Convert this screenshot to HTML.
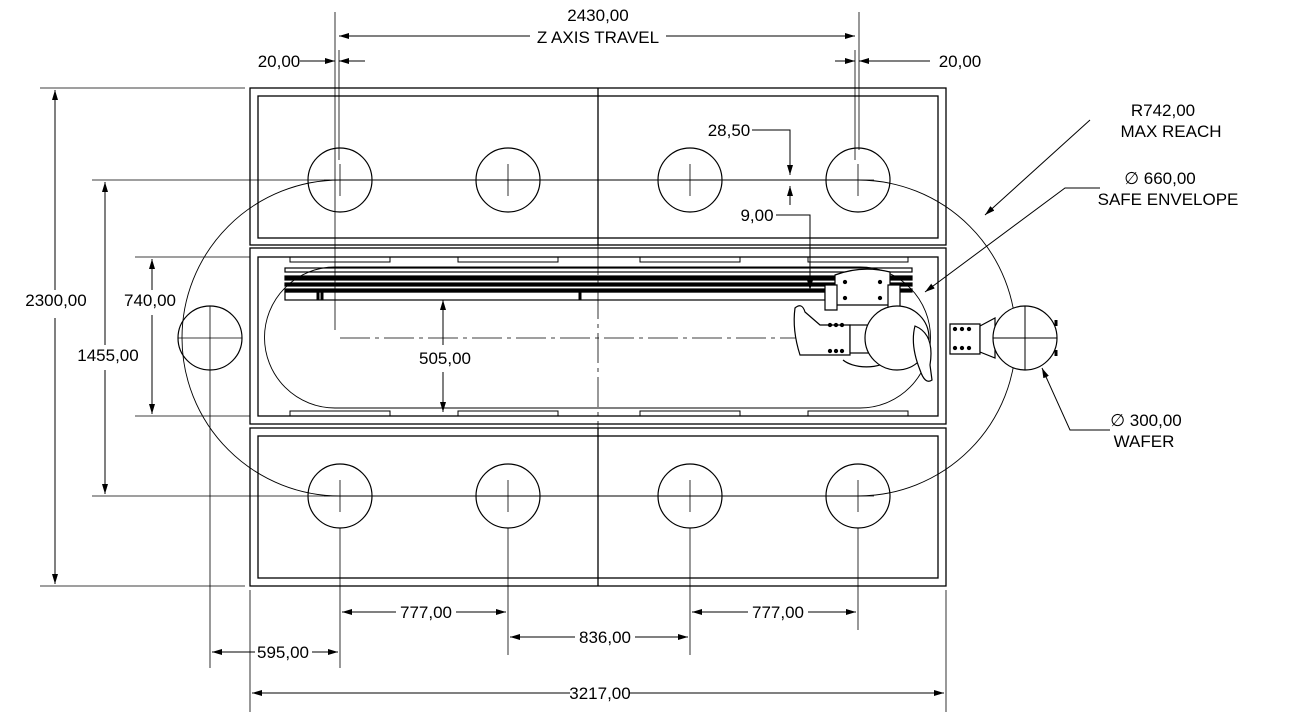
<!DOCTYPE html>
<html><head><meta charset="utf-8"><style>html,body{margin:0;padding:0;background:#fff}svg{display:block}text{font-family:"Liberation Sans",sans-serif;font-size:17px;fill:#000}</style></head><body>
<svg width="1299" height="718" viewBox="0 0 1299 718" xmlns="http://www.w3.org/2000/svg">
<defs><marker id="a" viewBox="0 0 10 6" refX="10" refY="3" markerWidth="10" markerHeight="6" orient="auto-start-reverse" markerUnits="userSpaceOnUse"><path d="M0,0L10,3L0,6z" fill="#000"/></marker></defs>
<g fill="none" stroke="#000" stroke-width="1.3">
<rect x="250" y="88" width="696" height="157"/><rect x="258" y="96" width="680" height="142"/>
<rect x="250" y="248" width="696" height="176"/><rect x="258" y="257" width="680" height="159"/>
<rect x="250" y="428" width="696" height="158"/><rect x="258" y="436" width="680" height="142"/>
<line x1="598" y1="88" x2="598" y2="245"/><line x1="598" y1="428" x2="598" y2="586"/>
<g stroke-width="1"><rect x="290" y="257" width="100" height="5"/><rect x="458" y="257" width="100" height="5"/><rect x="640" y="257" width="100" height="5"/><rect x="808" y="257" width="100" height="5"/>
<rect x="290" y="411" width="100" height="5"/><rect x="458" y="411" width="100" height="5"/><rect x="640" y="411" width="100" height="5"/><rect x="808" y="411" width="100" height="5"/></g>
<g stroke-width="1.2"><circle cx="340" cy="180" r="32"/><circle cx="508" cy="180" r="32"/><circle cx="690" cy="180" r="32"/><circle cx="858" cy="180" r="32"/>
<circle cx="340" cy="496" r="32"/><circle cx="508" cy="496" r="32"/><circle cx="690" cy="496" r="32"/><circle cx="858" cy="496" r="32"/>
<circle cx="210" cy="338" r="32"/></g>
<g stroke-width="0.8"><path d="M324,180h32M340,164v32M492,180h32M508,164v32M674,180h32M690,164v32M842,180h32M858,164v32M324,496h32M340,480v32M492,496h32M508,480v32M674,496h32M690,480v32M842,496h32M858,480v32M178,338h64M210,306v64"/>
<path d="M340,180H858A158,158 0 0 1 858,496H340A158,158 0 0 1 340,180z" stroke-width="0.9"/>
<path d="M335,267H860A70.5,70.5 0 0 1 860,408H335A70.5,70.5 0 0 1 335,267z" stroke-width="0.9"/>
<path d="M340,338H860" stroke-dasharray="30,5,4,5"/>
<path d="M598,245V428" stroke-dasharray="30,5,4,5"/>
<path d="M335,12V330M339,50V160M859,12V150M855,50V160M210,370V668M340,528V668M508,528V655M690,528V655M858,528V630M250,590V712M946,590V712"/>
<path d="M40,88H245M92,180H330M92,496H330M135,257H250M135,416H250M40,586H245"/>
</g>
<g stroke-width="1.2"><rect x="285" y="268" width="627" height="4"/><rect x="285" y="276" width="627" height="4" fill="#000"/><rect x="285" y="283" width="627" height="3" fill="#000"/><rect x="285" y="289" width="627" height="3" fill="#000"/><rect x="285" y="292" width="540" height="8"/></g>
<path d="M318,292v8M322,292v8M580,292v8" stroke-width="3"/>
<!-- robot -->
<g stroke-width="1.2" fill="#fff">
<path d="M835,275Q862,265 890,272L890,305L835,305z"/>
<path d="M825,285h12v25h-12zM888,285h12v25h-12z"/>
<path d="M843,360A28,15 0 0 0 890,360"/>
<path d="M795,308Q802,302 805,312L820,325H850V355H800Q792,330 795,308z"/>
<rect x="850" y="325" width="25" height="28"/>
<path d="M950,324h30v30h-30z"/><path d="M980,326L995,318L995,358L980,352z"/>
<circle cx="897" cy="338" r="32"/>
<path d="M915,326Q935,334 930,365L932,380Q925,385 920,370Q910,345 915,326z"/>
<circle cx="1025" cy="338" r="32"/>
</g>
<path d="M993,338h64M1025,306v64" stroke-width="1"/>
<path d="M1056,320v6M1056,350v6" stroke-width="3"/>
<g fill="#000"><circle cx="830" cy="325" r="1.5"/><circle cx="836" cy="325" r="1.5"/><circle cx="842" cy="325" r="1.5"/><circle cx="830" cy="351" r="1.5"/><circle cx="836" cy="351" r="1.5"/><circle cx="842" cy="351" r="1.5"/><circle cx="955" cy="329" r="1.5"/><circle cx="962" cy="329" r="1.5"/><circle cx="969" cy="329" r="1.5"/><circle cx="955" cy="348" r="1.5"/><circle cx="962" cy="348" r="1.5"/><circle cx="969" cy="348" r="1.5"/><circle cx="845" cy="282" r="1.5"/><circle cx="880" cy="282" r="1.5"/><circle cx="845" cy="298" r="1.5"/><circle cx="880" cy="298" r="1.5"/></g>
<!-- dimension lines -->
<g stroke-width="1" marker-end="url(#a)">
<path d="M530,36H339"/><path d="M666,36H855"/>
<path d="M300,61H335"/><path d="M365,61H339"/><path d="M835,61H855"/><path d="M930,61H859"/>
<path d="M55,290V90"/><path d="M55,318V584"/>
<path d="M105,345V182"/><path d="M105,370V494"/>
<path d="M152,290V259"/><path d="M152,315V414"/>
<path d="M443,345V300"/><path d="M443,372V412"/>
<path d="M396,612H342"/><path d="M456,612H506"/>
<path d="M575,637H510"/><path d="M635,637H688"/>
<path d="M748,612H692"/><path d="M808,612H856"/>
<path d="M255,652H212"/><path d="M312,652H338"/>
<path d="M570,693H252"/><path d="M630,693H944"/>
<path d="M752,130H790V175"/><path d="M790,205V186"/>
<path d="M776,215H810V290"/>
<path d="M1090,120L985,215"/>
<path d="M1100,188H1065L925,292"/>
<path d="M1110,430H1070L1042,368"/>
</g>
<path d="M770,180h40" stroke-width="0.8"/>
</g>
<g text-anchor="middle">
<text x="598" y="21">2430,00</text><text x="598" y="43">Z AXIS TRAVEL</text>
<text x="279" y="67">20,00</text><text x="960" y="67">20,00</text>
<text x="56" y="306" style="paint-order:stroke" stroke="#fff" stroke-width="6">2300,00</text>
<text x="108" y="361" style="paint-order:stroke" stroke="#fff" stroke-width="6">1455,00</text>
<text x="150" y="306" style="paint-order:stroke" stroke="#fff" stroke-width="6">740,00</text>
<text x="445" y="364">505,00</text>
<text x="426" y="618">777,00</text><text x="605" y="643">836,00</text><text x="778" y="618">777,00</text>
<text x="283" y="658">595,00</text><text x="600" y="699">3217,00</text>
<text x="729" y="136">28,50</text><text x="757" y="221">9,00</text>
<text x="1163" y="116">R742,00</text><text x="1171" y="137">MAX REACH</text>
<text x="1160" y="184">∅ 660,00</text><text x="1168" y="205">SAFE ENVELOPE</text>
<text x="1146" y="426">∅ 300,00</text><text x="1144" y="447">WAFER</text>
</g>
</svg>
</body></html>
